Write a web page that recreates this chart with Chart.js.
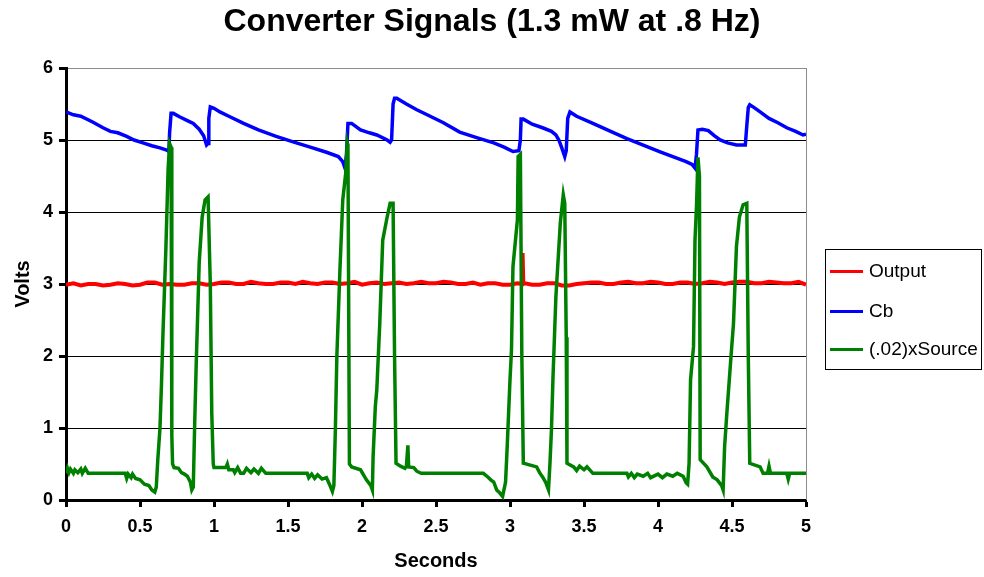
<!DOCTYPE html>
<html>
<head>
<meta charset="utf-8">
<title>Converter Signals</title>
<script src="https://cdn.jsdelivr.net/npm/chart.js@4/dist/chart.umd.min.js"></script>
<style>
  html, body { margin: 0; padding: 0; background: #fff; }
  #cadre { position: relative; width: 984px; height: 577px; }
  #legende { position: absolute; left: 825px; top: 249px; width: 155px; height: 119px; border: 1px solid #000;
    font: 19px "Liberation Sans", Arial, sans-serif; color: #000; }
  #legende div { position: absolute; left: 4px; height: 22px; line-height: 22px; white-space: nowrap; }
  #legende span.t { display: inline-block; width: 33px; height: 3px; vertical-align: middle; margin-right: 6px; }
</style>
</head>
<body>
<div id="cadre">
  <canvas id="g-signaux" width="984" height="577"></canvas>
  <div id="legende">
    <div style="top:10px"><span class="t" style="background:#ff0000"></span>Output</div>
    <div style="top:50px"><span class="t" style="background:#0000ff"></span>Cb</div>
    <div style="top:88px"><span class="t" style="background:#008000"></span>(.02)xSource</div>
  </div>
</div>
<script>
/* Converter Signals — trois courbes relevées à l'oscilloscope */
var ticksX = [0, 0.5, 1, 1.5, 2, 2.5, 3, 3.5, 4, 4.5, 5];
var ticksY = [0, 1, 2, 3, 4, 5, 6];

// Output (rouge)
var tempsSortie = [0, 0.05, 0.1, 0.15, 0.2, 0.25, 0.3, 0.35, 0.4, 0.45, 0.5, 0.55, 0.6, 0.65, 0.7, 0.75, 0.8, 0.85, 0.9, 0.95,
  1, 1.05, 1.1, 1.15, 1.2, 1.25, 1.3, 1.35, 1.4, 1.45, 1.5, 1.55, 1.6, 1.65, 1.7, 1.75, 1.8, 1.85, 1.9, 1.95,
  2, 2.05, 2.1, 2.15, 2.2, 2.25, 2.3, 2.35, 2.4, 2.45, 2.5, 2.55, 2.6, 2.65, 2.7, 2.75, 2.8, 2.85, 2.9, 2.95,
  3, 3.05, 3.08, 3.085, 3.09, 3.1, 3.15, 3.2, 3.25, 3.3, 3.35, 3.4, 3.45, 3.5, 3.55, 3.6, 3.65, 3.7, 3.75, 3.8, 3.85, 3.9, 3.95,
  4, 4.05, 4.1, 4.15, 4.2, 4.25, 4.3, 4.35, 4.4, 4.45, 4.5, 4.55, 4.6, 4.65, 4.7, 4.75, 4.8, 4.85, 4.9, 4.95, 5];
var sortie = [2.99, 3.01, 2.98, 3.00, 3.00, 2.98, 2.99, 3.01, 3.00, 2.98, 2.99, 3.02, 3.02, 2.99, 3.00, 2.99, 2.99, 3.01, 3.01, 2.99,
  3.00, 3.02, 3.02, 3.00, 3.00, 3.03, 3.01, 3.00, 3.00, 3.02, 3.02, 3.00, 3.03, 3.01, 3.00, 3.02, 3.02, 3.00, 3.01, 3.03,
  2.99, 3.01, 3.02, 3.00, 3.01, 3.02, 3.00, 3.01, 3.03, 3.01, 3.01, 3.03, 3.02, 3.00, 3.00, 3.02, 2.99, 3.01, 3.01, 2.99,
  2.99, 3.01, 3.00, 3.43, 3.00, 3.01, 2.99, 2.99, 3.01, 3.01, 2.98, 2.98, 3.00, 3.01, 3.02, 3.02, 3.00, 3.00, 3.02, 3.03, 3.01, 3.01, 3.03,
  3.02, 3.00, 3.00, 3.02, 3.02, 3.00, 3.01, 3.03, 3.02, 3.00, 3.02, 3.03, 3.03, 3.01, 3.01, 3.03, 3.02, 3.01, 3.01, 3.03, 2.99];

// Cb (bleu)
var tempsCb = [0, 0.05, 0.1, 0.18, 0.25, 0.3, 0.35, 0.41, 0.46, 0.52, 0.58, 0.635, 0.68, 0.695, 0.7, 0.71, 0.725, 0.77, 0.82, 0.86,
  0.9, 0.93, 0.95, 0.96, 0.965, 0.975, 1, 1.04, 1.1, 1.2, 1.3, 1.42, 1.54, 1.65, 1.76, 1.84, 1.87, 1.885, 1.895, 1.905,
  1.93, 1.99, 2.05, 2.1, 2.17, 2.19, 2.2, 2.21, 2.22, 2.235, 2.3, 2.37, 2.44, 2.55, 2.66, 2.78, 2.89, 2.96, 3.02, 3.06,
  3.07, 3.075, 3.09, 3.15, 3.22, 3.28, 3.31, 3.33, 3.35, 3.37, 3.38, 3.39, 3.405, 3.45, 3.56, 3.68, 3.79, 3.9, 4.01, 4.1,
  4.19, 4.23, 4.25, 4.26, 4.27, 4.3, 4.34, 4.38, 4.42, 4.47, 4.53, 4.59, 4.6, 4.61, 4.62, 4.65, 4.69, 4.75, 4.81, 4.87,
  4.93, 4.98, 5];
var cb = [5.39, 5.35, 5.33, 5.25, 5.17, 5.12, 5.10, 5.05, 5.00, 4.96, 4.92, 4.89, 4.86, 4.84, 5.10, 5.37, 5.37, 5.32, 5.27, 5.23,
  5.15, 5.06, 4.93, 4.95, 5.30, 5.46, 5.44, 5.39, 5.33, 5.23, 5.14, 5.05, 4.97, 4.90, 4.83, 4.77, 4.70, 4.61, 4.80, 5.23,
  5.23, 5.14, 5.10, 5.07, 5.00, 4.97, 5.00, 5.50, 5.58, 5.58, 5.50, 5.42, 5.35, 5.24, 5.11, 5.03, 4.96, 4.90, 4.84, 4.85,
  5.00, 5.29, 5.29, 5.22, 5.17, 5.12, 5.07, 5.00, 4.89, 4.77, 4.85, 5.30, 5.39, 5.33, 5.23, 5.12, 5.02, 4.93, 4.84, 4.77,
  4.70, 4.66, 4.61, 4.80, 5.14, 5.15, 5.13, 5.06, 5.00, 4.96, 4.93, 4.93, 5.20, 5.45, 5.49, 5.45, 5.39, 5.30, 5.24, 5.17,
  5.12, 5.07, 5.08];

// (.02)xSource (vert)
var tempsSource = [0, 0.01, 0.02, 0.03, 0.05, 0.06, 0.08, 0.1, 0.11, 0.13, 0.15, 0.4, 0.41, 0.42, 0.44, 0.45, 0.47, 0.5, 0.53, 0.56,
  0.58, 0.6, 0.61, 0.62, 0.635, 0.645, 0.655, 0.665, 0.675, 0.69, 0.7, 0.71, 0.715, 0.72, 0.73, 0.76, 0.78, 0.8, 0.82, 0.84,
  0.85, 0.86, 0.87, 0.88, 0.9, 0.92, 0.94, 0.96, 0.975, 0.985, 0.995, 1, 1.08, 1.09, 1.1, 1.13, 1.14, 1.16, 1.18, 1.2,
  1.22, 1.25, 1.27, 1.3, 1.32, 1.35, 1.63, 1.64, 1.66, 1.68, 1.7, 1.73, 1.76, 1.78, 1.8, 1.81, 1.82, 1.83, 1.85, 1.87,
  1.89, 1.9, 1.905, 1.915, 1.93, 1.99, 2.03, 2.06, 2.07, 2.075, 2.09, 2.1, 2.12, 2.14, 2.17, 2.19, 2.21, 2.22, 2.23, 2.26,
  2.29, 2.3, 2.31, 2.315, 2.35, 2.37, 2.4, 2.82, 2.85, 2.87, 2.89, 2.91, 2.93, 2.95, 2.97, 2.98, 3, 3.01, 3.02, 3.05,
  3.055, 3.07, 3.08, 3.09, 3.18, 3.2, 3.22, 3.24, 3.26, 3.27, 3.28, 3.29, 3.31, 3.34, 3.36, 3.37, 3.38, 3.385, 3.43, 3.45,
  3.47, 3.5, 3.52, 3.56, 3.79, 3.8, 3.82, 3.84, 3.86, 3.9, 3.93, 3.95, 4, 4.03, 4.06, 4.1, 4.13, 4.17, 4.19, 4.2,
  4.21, 4.22, 4.24, 4.25, 4.26, 4.27, 4.28, 4.285, 4.33, 4.37, 4.4, 4.43, 4.44, 4.45, 4.465, 4.49, 4.51, 4.53, 4.55, 4.575,
  4.6, 4.61, 4.62, 4.69, 4.71, 4.74, 4.75, 4.76, 4.87, 4.88, 4.89, 5];
var source = [0.37, 0.44, 0.38, 0.43, 0.37, 0.42, 0.38, 0.43, 0.37, 0.44, 0.37, 0.37, 0.30, 0.36, 0.31, 0.36, 0.30, 0.28, 0.22, 0.20,
  0.14, 0.11, 0.18, 0.55, 1.00, 1.60, 2.30, 2.90, 3.50, 4.60, 4.95, 4.90, 0.90, 0.50, 0.45, 0.44, 0.38, 0.36, 0.33, 0.25,
  0.14, 0.18, 1.10, 1.90, 3.30, 3.93, 4.17, 4.21, 3.00, 1.20, 0.50, 0.45, 0.45, 0.50, 0.42, 0.42, 0.38, 0.45, 0.37, 0.37,
  0.44, 0.38, 0.43, 0.37, 0.44, 0.37, 0.37, 0.31, 0.36, 0.30, 0.35, 0.29, 0.31, 0.22, 0.12, 0.20, 0.97, 1.99, 3.15, 4.17,
  4.54, 4.95, 4.90, 0.50, 0.46, 0.42, 0.28, 0.20, 0.14, 0.60, 1.30, 1.53, 2.45, 3.61, 3.93, 4.12, 4.12, 2.00, 0.51, 0.47,
  0.44, 0.47, 0.76, 0.46, 0.45, 0.40, 0.37, 0.37, 0.32, 0.28, 0.25, 0.14, 0.10, 0.05, 0.25, 0.69, 1.67, 2.08, 3.24, 3.89,
  4.77, 4.80, 2.00, 0.51, 0.46, 0.38, 0.32, 0.25, 0.14, 0.51, 0.97, 1.67, 2.82, 3.85, 4.24, 4.12, 2.26, 0.51, 0.46, 0.41,
  0.47, 0.42, 0.46, 0.37, 0.37, 0.32, 0.37, 0.31, 0.36, 0.33, 0.37, 0.31, 0.36, 0.31, 0.36, 0.33, 0.37, 0.33, 0.24, 0.22,
  0.51, 1.67, 2.13, 3.61, 4.07, 4.76, 4.50, 0.56, 0.46, 0.32, 0.28, 0.20, 0.14, 0.74, 1.20, 1.90, 2.45, 3.52, 3.93, 4.10,
  4.12, 2.00, 0.51, 0.46, 0.37, 0.37, 0.47, 0.37, 0.37, 0.29, 0.37, 0.37];

(function () {
  "use strict";
  var POLICE = '"Liberation Sans", Arial, sans-serif';
  var ROUGE = "#ff0000", BLEU = "#0000ff", VERT = "#008000";

  function points(t, v) { return t.map(function (x, i) { return { x: x, y: v[i] }; }); }
  function serie(nom, t, v, couleur, ordre, epaisseur) {
    return { label: nom, data: points(t, v), borderColor: couleur, backgroundColor: couleur, borderWidth: epaisseur,
      pointRadius: 0, tension: 0, fill: false, order: ordre };
  }
  function graduations(liste) {
    return function (s) { s.ticks = liste.map(function (x) { return { value: x }; }); };
  }

  // bord droit gris du cadre
  var bordDroit = {
    id: "bordDroit",
    beforeDatasetsDraw: function (c) {
      var a = c.chartArea, ctx = c.ctx;
      ctx.save();
      ctx.strokeStyle = "#8c8c8c"; ctx.lineWidth = 1;
      ctx.beginPath(); ctx.moveTo(a.right + 0.5, a.top); ctx.lineTo(a.right + 0.5, a.bottom); ctx.stroke();
      ctx.restore();
    }
  };

  new Chart(document.getElementById("g-signaux"), {
    type: "line",
    data: {
      datasets: [
        serie("(.02)xSource", tempsSource, source, VERT, 0, 3.5),
        serie("Cb", tempsCb, cb, BLEU, 1, 3.5),
        serie("Output", tempsSortie, sortie, ROUGE, 2, 4)
      ]
    },
    options: {
      responsive: false, animation: false, devicePixelRatio: 1,
      layout: { padding: 0 },
      plugins: {
        legend: { display: false },
        tooltip: { enabled: false },
        title: { display: true, text: "Converter Signals (1.3 mW at .8 Hz)", color: "#000",
          font: { family: POLICE, size: 32, weight: "bold" }, padding: { top: 3, bottom: 26.6 } }
      },
      scales: {
        x: {
          type: "linear", min: 0, max: 5,
          afterBuildTicks: graduations(ticksX),
          afterFit: function (s) { s.height = 77; },
          grid: { drawOnChartArea: false, tickLength: 7, tickWidth: 3, tickColor: "#000" },
          border: { color: "#000", width: 3 },
          ticks: { color: "#000", padding: 9, maxRotation: 0, callback: function (v) { return String(v); },
            font: { family: POLICE, size: 18, weight: "bold" } },
          title: { display: true, text: "Seconds", color: "#000", padding: { top: 0, bottom: 4 },
            font: { family: POLICE, size: 20, weight: "bold" } }
        },
        y: {
          min: 0, max: 6,
          afterBuildTicks: graduations(ticksY),
          afterFit: function (s) { s.width = 66; },
          grid: {
            color: function (c) { return c.tick && c.tick.value === 6 ? "#8c8c8c" : "#000"; },
            lineWidth: 1, tickLength: 7, tickWidth: 3, tickColor: "#000"
          },
          border: { color: "#000", width: 3 },
          ticks: { color: "#000", padding: 6, callback: function (v) { return String(v); },
            font: { family: POLICE, size: 18, weight: "bold" } },
          title: { display: true, text: "Volts", color: "#000", padding: { top: 11, bottom: 0 },
            font: { family: POLICE, size: 20, weight: "bold" } }
        },
        // axe vide à droite : réserve la place de la légende
        marge: {
          type: "linear", position: "right", display: true,
          afterFit: function (s) { s.width = 178; },
          grid: { display: false }, border: { display: false }, ticks: { display: false }
        }
      }
    },
    plugins: [bordDroit]
  });
})();
</script>
</body>
</html>
